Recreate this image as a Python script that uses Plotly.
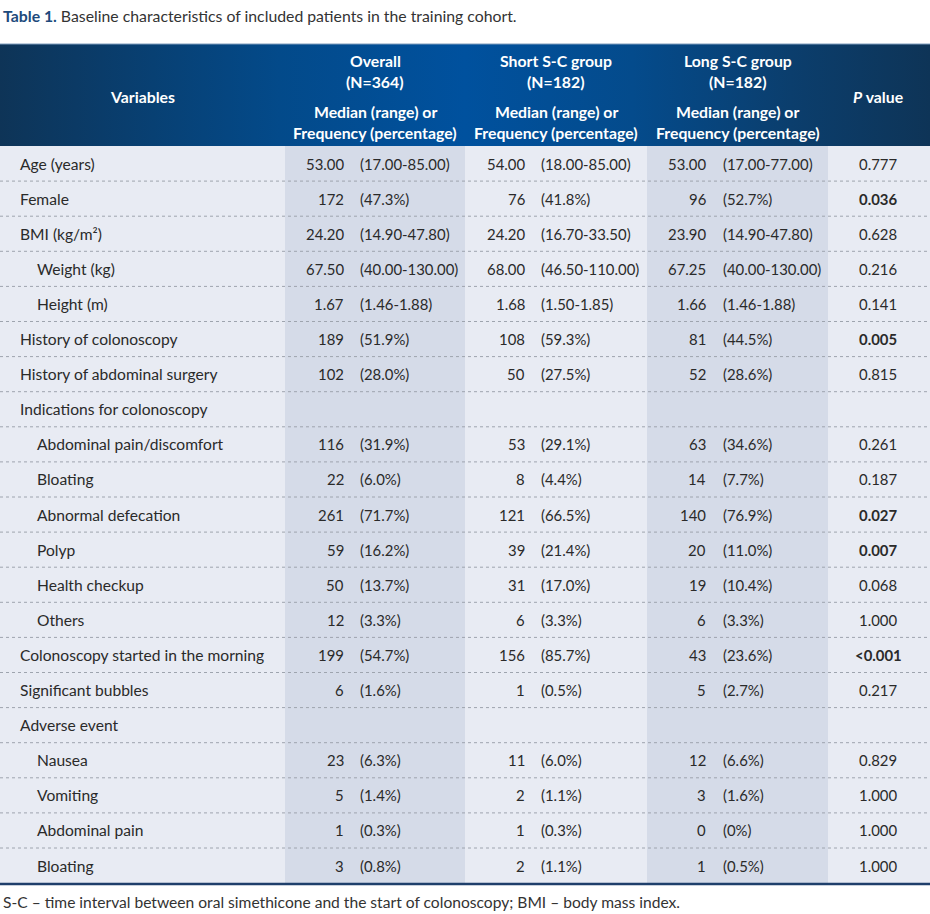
import plotly.graph_objects as go

# ---------------- data ----------------
variables = ["Age (years)", "Female", "BMI (kg/m²)", "Weight (kg)", "Height (m)",
             "History of colonoscopy", "History of abdominal surgery",
             "Indications for colonoscopy", "Abdominal pain/discomfort", "Bloating",
             "Abnormal defecation", "Polyp", "Health checkup", "Others",
             "Colonoscopy started in the morning", "Significant bubbles",
             "Adverse event", "Nausea", "Vomiting", "Abdominal pain", "Bloating"]
indent = [0, 0, 0, 1, 1, 0, 0, 0, 1, 1, 1, 1, 1, 1, 0, 0, 0, 1, 1, 1, 1]

overall_val = ["53.00", "172", "24.20", "67.50", "1.67", "189", "102", "", "116", "22",
               "261", "59", "50", "12", "199", "6", "", "23", "5", "1", "3"]
overall_rng = ["(17.00-85.00)", "(47.3%)", "(14.90-47.80)", "(40.00-130.00)", "(1.46-1.88)",
               "(51.9%)", "(28.0%)", "", "(31.9%)", "(6.0%)", "(71.7%)", "(16.2%)",
               "(13.7%)", "(3.3%)", "(54.7%)", "(1.6%)", "", "(6.3%)", "(1.4%)",
               "(0.3%)", "(0.8%)"]
short_val = ["54.00", "76", "24.20", "68.00", "1.68", "108", "50", "", "53", "8",
             "121", "39", "31", "6", "156", "1", "", "11", "2", "1", "2"]
short_rng = ["(18.00-85.00)", "(41.8%)", "(16.70-33.50)", "(46.50-110.00)", "(1.50-1.85)",
             "(59.3%)", "(27.5%)", "", "(29.1%)", "(4.4%)", "(66.5%)", "(21.4%)",
             "(17.0%)", "(3.3%)", "(85.7%)", "(0.5%)", "", "(6.0%)", "(1.1%)",
             "(0.3%)", "(1.1%)"]
long_val = ["53.00", "96", "23.90", "67.25", "1.66", "81", "52", "", "63", "14",
            "140", "20", "19", "6", "43", "5", "", "12", "3", "0", "1"]
long_rng = ["(17.00-77.00)", "(52.7%)", "(14.90-47.80)", "(40.00-130.00)", "(1.46-1.88)",
            "(44.5%)", "(28.6%)", "", "(34.6%)", "(7.7%)", "(76.9%)", "(11.0%)",
            "(10.4%)", "(3.3%)", "(23.6%)", "(2.7%)", "", "(6.6%)", "(1.6%)",
            "(0%)", "(0.5%)"]
p_values = ["0.777", "0.036", "0.628", "0.216", "0.141", "0.005", "0.815", "", "0.261",
            "0.187", "0.027", "0.007", "0.068", "1.000", "<0.001", "0.217", "", "0.829",
            "1.000", "1.000", "1.000"]
p_bold = [0, 1, 0, 0, 0, 1, 0, 0, 0, 0, 1, 1, 0, 0, 1, 0, 0, 0, 0, 0, 0]

group_titles = ["Overall", "Short S-C group", "Long S-C group"]
group_n = ["(N=364)", "(N=182)", "(N=182)"]
title_bold = "Table 1."
title_rest = " Baseline characteristics of included patients in the training cohort."
footnote = "S-C – time interval between oral simethicone and the start of colonoscopy; BMI – body mass index."

# ---------------- layout constants ----------------
W, H = 930, 914
FONT = "Lato"
TXT = "#2a2a2a"
col_edges = [0, 285, 465, 647, 828, 930]
hdr_top, hdr_bot = 44, 146
row_h = 35.1
n_rows = len(variables)
tbl_bot = hdr_bot + row_h * n_rows
light_bg = "#e8ebf3"
shade_bg = "#d5dbe8"

fig = go.Figure()
shapes = []
ann = []

# header gradient
fig.add_trace(go.Scatter(
    x=[0, W, W, 0, 0], y=[hdr_top, hdr_top, hdr_bot, hdr_bot, hdr_top],
    mode="lines", line=dict(width=0), fill="toself",
    fillgradient=dict(type="horizontal",
                      colorscale=[[0, "#0e3457"], [0.3, "#034a8a"], [0.5, "#00519e"],
                                  [0.68, "#044b8c"], [0.85, "#0b3e6d"], [1, "#0e3457"]]),
    hoverinfo="skip", showlegend=False))
shapes.append(dict(type="line", x0=0, x1=W, y0=hdr_top, y1=hdr_top,
                   line=dict(color="#7f9cbc", width=1), layer="above"))

# body backgrounds
for i in range(5):
    shapes.append(dict(type="rect", x0=col_edges[i], x1=col_edges[i + 1], y0=hdr_bot, y1=tbl_bot,
                       fillcolor=shade_bg if i in (1, 3) else light_bg, line=dict(width=0),
                       layer="below"))
# row separators
for r in range(1, n_rows):
    y = hdr_bot + row_h * r
    shapes.append(dict(type="line", x0=0, x1=W, y0=y, y1=y,
                       line=dict(color="#9ea4ae", width=1, dash="dot"), layer="above"))
shapes.append(dict(type="line", x0=0, x1=W, y0=tbl_bot + 1, y1=tbl_bot + 1,
                   line=dict(color="#1f3f6b", width=2.5), layer="above"))

# header texts
hf = dict(family=FONT, size=15.8, color="white")
ann.append(dict(x=142, y=96, text="<b>Variables</b>", font=hf, xanchor="center"))
ann.append(dict(x=878, y=96, text="<b><i>P</i> value</b>", font=hf, xanchor="center"))
for i in range(3):
    cx = (col_edges[i + 1] + col_edges[i + 2]) / 2
    for yy, t in [(60, group_titles[i]), (81, group_n[i]), (111, "Median (range) or"),
                  (132, "Frequency (percentage)")]:
        ann.append(dict(x=cx, y=yy, text=f"<b>{t}</b>", font=hf, xanchor="center"))

# body texts
bf = dict(family=FONT, size=15.6, color=TXT)
nf = dict(family=FONT, size=14.9, color=TXT)
val_right = [346, 527, 708]
rng_left = [358, 539, 721]
cols_val = [overall_val, short_val, long_val]
cols_rng = [overall_rng, short_rng, long_rng]
for r in range(n_rows):
    yc = hdr_bot + row_h * (r + 0.5)
    ann.append(dict(x=35 if indent[r] else 18, y=yc, text=variables[r], font=bf, xanchor="left"))
    for c in range(3):
        if cols_val[c][r]:
            ann.append(dict(x=val_right[c], y=yc, text=cols_val[c][r], font=nf, xanchor="right"))
            ann.append(dict(x=rng_left[c], y=yc, text=cols_rng[c][r], font=nf, xanchor="left"))
    if p_values[r]:
        t = p_values[r].replace("<", "&lt;")
        ann.append(dict(x=878, y=yc, text=f"<b>{t}</b>" if p_bold[r] else t, font=nf,
                        xanchor="center"))

# title and footnote
ann.append(dict(x=1, y=15, xanchor="left",
                text=f"<b><span style='color:#1d4a7c'>{title_bold}</span></b>{title_rest}",
                font=dict(family=FONT, size=15.8, color="#333333")))
ann.append(dict(x=1, y=902, xanchor="left", text=footnote,
                font=dict(family=FONT, size=15.6, color="#333333")))

for a in ann:
    a.update(xref="x", yref="y", showarrow=False, yanchor="middle")

fig.update_layout(
    width=W, height=H, margin=dict(l=0, r=0, t=0, b=0),
    paper_bgcolor="white", plot_bgcolor="white",
    xaxis=dict(range=[0, W], visible=False, fixedrange=True),
    yaxis=dict(range=[H, 0], visible=False, fixedrange=True),
    shapes=shapes, annotations=ann, showlegend=False,
)
fig.write_html("out.html", config={"displayModeBar": False},
               post_script="document.body.style.margin='0px';document.body.style.overflow='hidden';")
